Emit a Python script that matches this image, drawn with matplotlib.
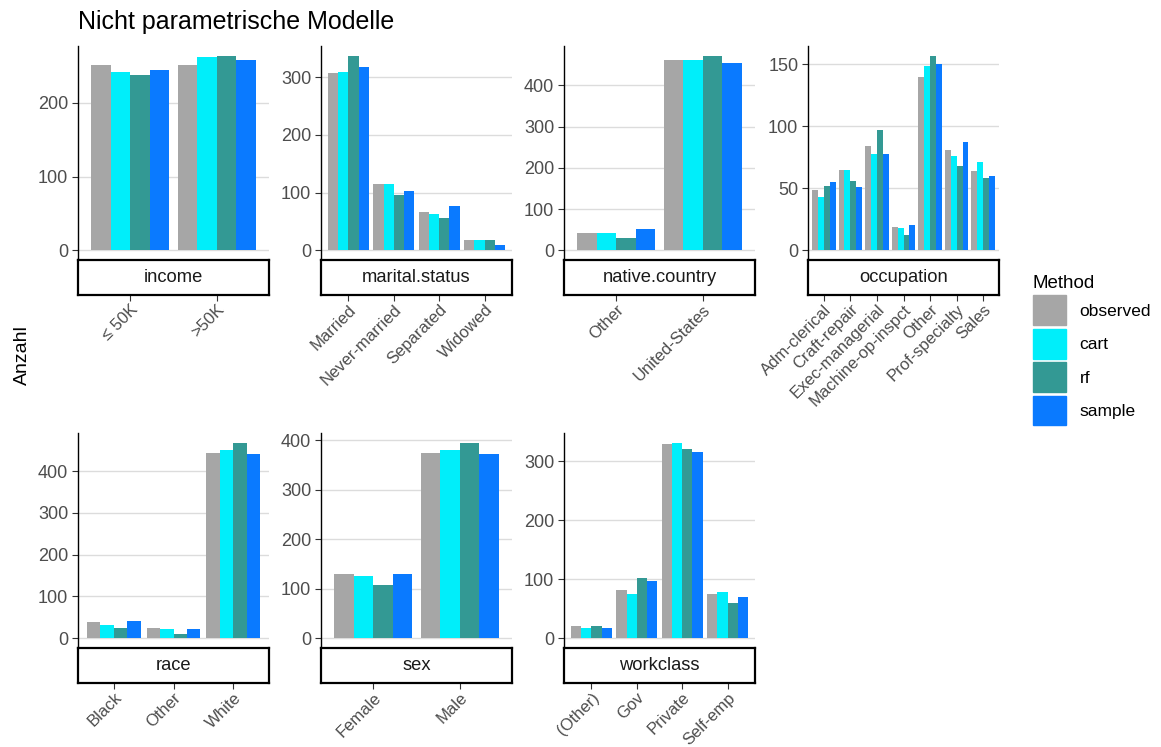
import matplotlib
matplotlib.use("Agg")
import matplotlib.pyplot as plt
import matplotlib.patches as mpatches
from matplotlib.ticker import MultipleLocator

plt.rcParams['font.family'] = ['Liberation Sans', 'DejaVu Sans']

methods = ['observed', 'cart', 'rf', 'sample']
method_colors = ['#A6A6A6', '#00EEFA', '#339994', '#0A7AFF']

# counts per variable level, one list per method (observed, cart, rf, sample)
income_levels = ['≤ 50K', '>50K']
income_counts = [[252, 252], [242, 262], [238, 264], [245, 258]]

marital_levels = ['Married', 'Never-married', 'Separated', 'Widowed']
marital_counts = [[307, 114, 67, 18], [309, 114, 62, 18],
                  [337, 95, 56, 18], [317, 102, 77, 9]]

country_levels = ['Other', 'United-States']
country_counts = [[43, 461], [43, 461], [29, 472], [51, 455]]

occupation_levels = ['Adm-clerical', 'Craft-repair', 'Exec-managerial',
                     'Machine-op-inspct', 'Other', 'Prof-specialty', 'Sales']
occupation_counts = [[49, 65, 84, 19, 140, 81, 64],
                     [43, 65, 78, 18, 149, 76, 71],
                     [52, 56, 97, 12, 157, 68, 58],
                     [55, 51, 78, 20, 150, 87, 60]]

race_levels = ['Black', 'Other', 'White']
race_counts = [[38, 24, 444], [31, 22, 450], [24, 10, 468], [42, 22, 440]]

sex_levels = ['Female', 'Male']
sex_counts = [[130, 375], [125, 380], [107, 395], [130, 372]]

workclass_levels = ['(Other)', 'Gov', 'Private', 'Self-emp']
workclass_counts = [[20, 82, 329, 75], [18, 75, 331, 78],
                    [21, 102, 321, 60], [18, 97, 316, 70]]

panels = [
    ('income', income_levels, income_counts, 100),
    ('marital.status', marital_levels, marital_counts, 100),
    ('native.country', country_levels, country_counts, 100),
    ('occupation', occupation_levels, occupation_counts, 50),
    ('race', race_levels, race_counts, 100),
    ('sex', sex_levels, sex_counts, 100),
    ('workclass', workclass_levels, workclass_counts, 100),
]

W, H = 1161, 747
fig = plt.figure(figsize=(W / 100, H / 100), dpi=100)

# facet grid geometry in pixels
col_left = [78, 321, 564, 808]
panel_w = 191
row_top = [46, 433]
strip_top = [260, 648]
strip_h = 35

tick_color = '#4D4D4D'
bar_w = 0.9 / len(methods)

for k, (name, levels, counts, step) in enumerate(panels):
    r, c = divmod(k, 4)
    x0 = col_left[c] / W
    y_panel = 1 - strip_top[r] / H
    h_panel = (strip_top[r] - row_top[r]) / H
    ax = fig.add_axes([x0, y_panel, panel_w / W, h_panel])

    ymax = max(max(v) for v in counts)
    xs = list(range(1, len(levels) + 1))
    for j, (vals, col) in enumerate(zip(counts, method_colors)):
        off = (j - (len(methods) - 1) / 2) * bar_w
        ax.bar([x + off for x in xs], vals, width=bar_w, color=col,
               linewidth=0, zorder=2)

    ax.set_xlim(0.4, len(levels) + 0.6)
    ax.set_ylim(-0.05 * ymax, 1.05 * ymax)
    ax.yaxis.set_major_locator(MultipleLocator(step))
    ax.set_xticks([])
    ax.grid(axis='y', color='#DCDCDC', linewidth=1.0, zorder=0)
    ax.set_axisbelow(True)
    for s in ['top', 'right', 'bottom']:
        ax.spines[s].set_visible(False)
    ax.spines['left'].set_color('black')
    ax.spines['left'].set_linewidth(1.0)
    ax.tick_params(axis='y', labelsize=13, colors='#333333', labelcolor=tick_color,
                   length=4, width=0.8, pad=3)

    # strip below the panel, carrying the x axis ticks
    sx = fig.add_axes([x0, 1 - (strip_top[r] + strip_h) / H, panel_w / W, strip_h / H])
    sx.set_xlim(ax.get_xlim())
    sx.set_ylim(0, 1)
    sx.set_yticks([])
    for s in sx.spines.values():
        s.set_color('black')
        s.set_linewidth(1.6)
    sx.text(0.5, 0.5, name, transform=sx.transAxes, ha='center', va='center',
            fontsize=13.2, color='#1A1A1A')
    sx.set_xticks(xs)
    sx.set_xticklabels(levels, rotation=45, ha='right', va='top',
                       rotation_mode='anchor', fontsize=12, color=tick_color)
    sx.tick_params(axis='x', length=4, width=0.8, colors='#333333',
                   labelcolor=tick_color, pad=1)

fig.text(78 / W, 1 - 22 / H, 'Nicht parametrische Modelle', fontsize=18,
         ha='left', va='center', color='black')
fig.text(22 / W, 1 - 355 / H, 'Anzahl', fontsize=14, rotation=90,
         ha='center', va='center', color='black')

handles = [mpatches.Patch(color=col, label=m) for m, col in zip(methods, method_colors)]
fig.legend(handles=handles, loc='upper left', bbox_to_anchor=(1017 / W, 1 - 259 / H),
           frameon=False, title='Method', title_fontsize=13.5, fontsize=12.5,
           handlelength=1.9, handleheight=2.25, labelspacing=0.22,
           handletextpad=0.8, alignment='left')

fig.savefig('out.png', dpi=100)
